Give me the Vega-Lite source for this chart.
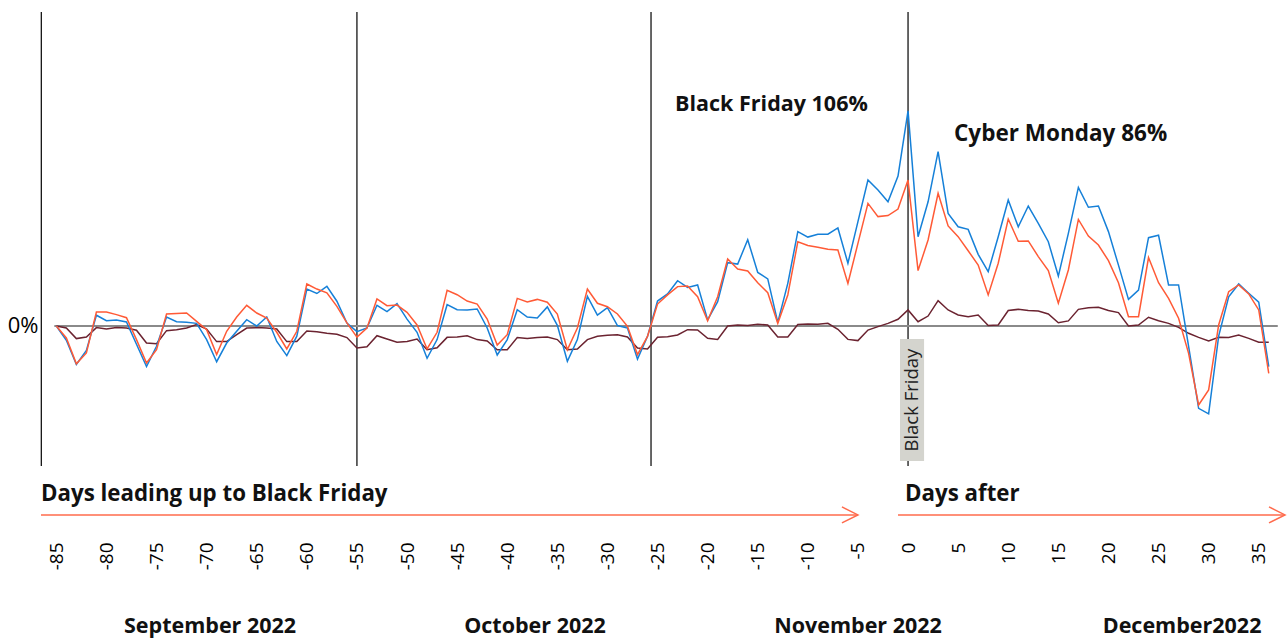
{
  "$schema": "https://vega.github.io/schema/vega-lite/v6.json",
  "autosize": {"type": "none"},
  "padding": {"left": 41, "top": 12, "right": 0, "bottom": 110},
  "width": 1247,
  "height": 520,
  "background": "white",
  "config": {"view": {"stroke": null}, "font": "Open Sans"},
  "datasets": {
    "sales": [
      {"day": -85, "blue": 0, "orange": 0, "maroon": 0},
      {"day": -84, "blue": -7, "orange": -5.9, "maroon": -1},
      {"day": -83, "blue": -19, "orange": -18.6, "maroon": -6.2},
      {"day": -82, "blue": -12, "orange": -13.3, "maroon": -5.4},
      {"day": -81, "blue": 5.3, "orange": 6.9, "maroon": -0.8},
      {"day": -80, "blue": 2.6, "orange": 6.9, "maroon": -1.5},
      {"day": -79, "blue": 3, "orange": 5.6, "maroon": -0.8},
      {"day": -78, "blue": 2, "orange": 4.1, "maroon": -1},
      {"day": -77, "blue": -9, "orange": -6.7, "maroon": -2.1},
      {"day": -76, "blue": -20, "orange": -18.2, "maroon": -8.4},
      {"day": -75, "blue": -10, "orange": -11.7, "maroon": -8.7},
      {"day": -74, "blue": 4.4, "orange": 5.9, "maroon": -2.3},
      {"day": -73, "blue": 2.1, "orange": 6.1, "maroon": -1.8},
      {"day": -72, "blue": 1.8, "orange": 6.4, "maroon": -1},
      {"day": -71, "blue": 1.3, "orange": 2.3, "maroon": 0.7},
      {"day": -70, "blue": -6.7, "orange": -1.8, "maroon": -1.5},
      {"day": -69, "blue": -17.6, "orange": -14.1, "maroon": -7.7},
      {"day": -68, "blue": -8.4, "orange": -2.6, "maroon": -7.7},
      {"day": -67, "blue": -2.6, "orange": 4.4, "maroon": -4.3},
      {"day": -66, "blue": 3.1, "orange": 10.2, "maroon": -1},
      {"day": -65, "blue": 0, "orange": 6.4, "maroon": -0.8},
      {"day": -64, "blue": 4.4, "orange": 3.9, "maroon": -1},
      {"day": -63, "blue": -7.6, "orange": -3.1, "maroon": -1.5},
      {"day": -62, "blue": -14.6, "orange": -11.3, "maroon": -7.7},
      {"day": -61, "blue": -5, "orange": -2.6, "maroon": -7.7},
      {"day": -60, "blue": 18.2, "orange": 20.7, "maroon": -2.5},
      {"day": -59, "blue": 16, "orange": 18.2, "maroon": -2.8},
      {"day": -58, "blue": 19.5, "orange": 16.3, "maroon": -3.6},
      {"day": -57, "blue": 12.2, "orange": 9.7, "maroon": -4.1},
      {"day": -56, "blue": 1.5, "orange": 1.5, "maroon": -5.7},
      {"day": -55, "blue": -2.8, "orange": -5.5, "maroon": -10.8},
      {"day": -54, "blue": -1, "orange": -1, "maroon": -10.2},
      {"day": -53, "blue": 10.2, "orange": 13.3, "maroon": -4.8},
      {"day": -52, "blue": 7.1, "orange": 10, "maroon": -6.4},
      {"day": -51, "blue": 11, "orange": 10.3, "maroon": -8},
      {"day": -50, "blue": 3.4, "orange": 6.7, "maroon": -7.6},
      {"day": -49, "blue": -3.1, "orange": 0.5, "maroon": -6.4},
      {"day": -48, "blue": -15.9, "orange": -11.3, "maroon": -11.7},
      {"day": -47, "blue": -6.7, "orange": -3.1, "maroon": -10.7},
      {"day": -46, "blue": 10.5, "orange": 17.6, "maroon": -5.6},
      {"day": -45, "blue": 8, "orange": 15.4, "maroon": -5.4},
      {"day": -44, "blue": 7.9, "orange": 12.3, "maroon": -4.8},
      {"day": -43, "blue": 8.4, "orange": 10.8, "maroon": -6.7},
      {"day": -42, "blue": -1, "orange": 3.4, "maroon": -7.4},
      {"day": -41, "blue": -14.3, "orange": -9.4, "maroon": -11.7},
      {"day": -40, "blue": -6.7, "orange": -4.3, "maroon": -11.7},
      {"day": -39, "blue": 8, "orange": 13.6, "maroon": -5.7},
      {"day": -38, "blue": 4.4, "orange": 11.8, "maroon": -6.2},
      {"day": -37, "blue": 3.9, "orange": 13.1, "maroon": -5.7},
      {"day": -36, "blue": 9.4, "orange": 11.7, "maroon": -5.4},
      {"day": -35, "blue": 0.3, "orange": 5.9, "maroon": -6.7},
      {"day": -34, "blue": -17.4, "orange": -11.7, "maroon": -11.7},
      {"day": -33, "blue": -6.7, "orange": -1, "maroon": -11.3},
      {"day": -32, "blue": 14.6, "orange": 18.2, "maroon": -6.7},
      {"day": -31, "blue": 5.4, "orange": 11.2, "maroon": -5.1},
      {"day": -30, "blue": 9, "orange": 9.5, "maroon": -4.6},
      {"day": -29, "blue": 0.2, "orange": 5.9, "maroon": -4.3},
      {"day": -28, "blue": -1, "orange": -0.2, "maroon": -5.4},
      {"day": -27, "blue": -16.3, "orange": -14.1, "maroon": -10.8},
      {"day": -26, "blue": -5.1, "orange": -5.1, "maroon": -11.3},
      {"day": -25, "blue": 12.3, "orange": 10.8, "maroon": -5.5},
      {"day": -24, "blue": 15.8, "orange": 15.3, "maroon": -5.3},
      {"day": -23, "blue": 22.3, "orange": 19.4, "maroon": -4.4},
      {"day": -22, "blue": 19, "orange": 19.7, "maroon": -1.8},
      {"day": -21, "blue": 20.2, "orange": 14.4, "maroon": -2},
      {"day": -20, "blue": 3, "orange": 2.6, "maroon": -6.1},
      {"day": -19, "blue": 12, "orange": 14.4, "maroon": -6.6},
      {"day": -18, "blue": 31.2, "orange": 33, "maroon": 0},
      {"day": -17, "blue": 30.5, "orange": 28.1, "maroon": 0.5},
      {"day": -16, "blue": 42.5, "orange": 27.1, "maroon": 0.2},
      {"day": -15, "blue": 26.4, "orange": 21.3, "maroon": 0.8},
      {"day": -14, "blue": 23.2, "orange": 16.4, "maroon": 0.5},
      {"day": -13, "blue": 1.8, "orange": 1.3, "maroon": -5.4},
      {"day": -12, "blue": 21, "orange": 15.3, "maroon": -5.4},
      {"day": -11, "blue": 46.5, "orange": 41.5, "maroon": 0.7},
      {"day": -10, "blue": 43.8, "orange": 39.7, "maroon": 1},
      {"day": -9, "blue": 45.2, "orange": 38.8, "maroon": 0.8},
      {"day": -8, "blue": 45.2, "orange": 37.8, "maroon": 1.3},
      {"day": -7, "blue": 48.3, "orange": 37.4, "maroon": -1.6},
      {"day": -6, "blue": 30.9, "orange": 21, "maroon": -6.6},
      {"day": -5, "blue": 51.4, "orange": 40.7, "maroon": -7.2},
      {"day": -4, "blue": 71.9, "orange": 60.4, "maroon": -2},
      {"day": -3, "blue": 67, "orange": 53.9, "maroon": -0.3},
      {"day": -2, "blue": 61.2, "orange": 54.4, "maroon": 1.3},
      {"day": -1, "blue": 73.9, "orange": 57.6, "maroon": 3.3},
      {"day": 0, "blue": 106, "orange": 71.9, "maroon": 7.9},
      {"day": 1, "blue": 44, "orange": 27.3, "maroon": 2.1},
      {"day": 2, "blue": 61.2, "orange": 42.4, "maroon": 4.9},
      {"day": 3, "blue": 85.9, "orange": 65.4, "maroon": 12.5},
      {"day": 4, "blue": 55.5, "orange": 49.3, "maroon": 7.9},
      {"day": 5, "blue": 48.9, "orange": 44, "maroon": 5.4},
      {"day": 6, "blue": 47.6, "orange": 37.1, "maroon": 4.6},
      {"day": 7, "blue": 35.3, "orange": 30, "maroon": 5.4},
      {"day": 8, "blue": 26.8, "orange": 15.3, "maroon": 0.2},
      {"day": 9, "blue": 44, "orange": 30.9, "maroon": 0.5},
      {"day": 10, "blue": 62.1, "orange": 52.7, "maroon": 7.6},
      {"day": 11, "blue": 48.9, "orange": 41.7, "maroon": 8.2},
      {"day": 12, "blue": 59.1, "orange": 41.9, "maroon": 7.6},
      {"day": 13, "blue": 50.6, "orange": 34.2, "maroon": 7.4},
      {"day": 14, "blue": 41.5, "orange": 27.3, "maroon": 5.9},
      {"day": 15, "blue": 24.6, "orange": 11.2, "maroon": 1.6},
      {"day": 16, "blue": 45.6, "orange": 27.6, "maroon": 2.5},
      {"day": 17, "blue": 68.3, "orange": 52.5, "maroon": 8.2},
      {"day": 18, "blue": 58.5, "orange": 44.3, "maroon": 9},
      {"day": 19, "blue": 59.1, "orange": 39.9, "maroon": 9.2},
      {"day": 20, "blue": 46.5, "orange": 32.2, "maroon": 7.6},
      {"day": 21, "blue": 30, "orange": 21.3, "maroon": 6.6},
      {"day": 22, "blue": 13.1, "orange": 4.6, "maroon": 0},
      {"day": 23, "blue": 17.7, "orange": 4.6, "maroon": 0.5},
      {"day": 24, "blue": 43.5, "orange": 33.7, "maroon": 4.3},
      {"day": 25, "blue": 44.7, "orange": 21.3, "maroon": 2.6},
      {"day": 26, "blue": 20.2, "orange": 13.6, "maroon": 1.3},
      {"day": 27, "blue": 20.2, "orange": 3.8, "maroon": -0.7},
      {"day": 28, "blue": -10, "orange": -13.5, "maroon": -3.6},
      {"day": 29, "blue": -40.6, "orange": -38.9, "maroon": -5.6},
      {"day": 30, "blue": -43.3, "orange": -31.5, "maroon": -7.4},
      {"day": 31, "blue": -5, "orange": 0.5, "maroon": -5.6},
      {"day": 32, "blue": 14.4, "orange": 16.9, "maroon": -5.7},
      {"day": 33, "blue": 20.7, "orange": 20.2, "maroon": -4.4},
      {"day": 34, "blue": 16.1, "orange": 15.8, "maroon": -6.1},
      {"day": 35, "blue": 11.7, "orange": 7.9, "maroon": -8},
      {"day": 36, "blue": -20, "orange": -23.3, "maroon": -8}
    ],
    "dividers": [{"day": -86.5}, {"day": -55}, {"day": -25.65}, {"day": 0}],
    "months": [
      {"day": -69.66, "label": "September 2022"},
      {"day": -37.23, "label": "October 2022"},
      {"day": -4.99, "label": "November 2022"},
      {"day": 27.35, "label": "December2022"}
    ],
    "one": [{}]
  },
  "layer": [
    {
      "data": {"name": "dividers"},
      "mark": {"type": "rule", "color": "#000000", "strokeWidth": 1.2},
      "encoding": {
        "x": {"field": "day", "type": "quantitative",
              "scale": {"domain": [-86.53, 37.92], "nice": false, "zero": false},
              "axis": {"values": [-85, -80, -75, -70, -65, -60, -55, -50, -45, -40, -35, -30, -25, -20, -15, -10, -5, 0, 5, 10, 15, 20, 25, 30, 35],
                       "labelExpr": "'' + datum.value",
                       "labelAngle": 270, "labelFontSize": 19, "labelColor": "#000000", "labelPadding": 10,
                       "domain": false, "ticks": false, "grid": false, "title": null, "labelFont": "Open Sans"}},
        "y": {"datum": 154.7, "type": "quantitative",
              "scale": {"domain": [-101.5, 154.7], "nice": false, "zero": false},
              "axis": {"values": [0], "labelExpr": "'0%'", "labelFontSize": 22, "labelColor": "#000000", "labelPadding": 3,
                       "domain": false, "ticks": false, "grid": false, "title": null, "labelFont": "Open Sans"}},
        "y2": {"datum": -69}
      }
    },
    {
      "data": {"name": "one"},
      "mark": {"type": "rule", "color": "#8a8a8a", "strokeWidth": 2},
      "encoding": {"x": {"datum": -85.2}, "x2": {"datum": 36.9}, "y": {"datum": 0}}
    },
    {
      "data": {"name": "sales"},
      "mark": {"type": "line", "color": "#6b2330", "strokeWidth": 1.5},
      "encoding": {"x": {"field": "day", "type": "quantitative"}, "y": {"field": "maroon", "type": "quantitative"}}
    },
    {
      "data": {"name": "sales"},
      "mark": {"type": "line", "color": "#1680d8", "strokeWidth": 1.5},
      "encoding": {"x": {"field": "day", "type": "quantitative"}, "y": {"field": "blue", "type": "quantitative"}}
    },
    {
      "data": {"name": "sales"},
      "mark": {"type": "line", "color": "#ff5a36", "strokeWidth": 1.5},
      "encoding": {"x": {"field": "day", "type": "quantitative"}, "y": {"field": "orange", "type": "quantitative"}}
    },
    {
      "data": {"name": "one"},
      "mark": {"type": "rect", "color": "#d4d4ce"},
      "encoding": {"x": {"datum": -0.8}, "x2": {"datum": 1.6}, "y": {"datum": -6.4}, "y2": {"datum": -66.5}}
    },
    {
      "data": {"name": "one"},
      "mark": {"type": "text", "text": "Black Friday", "angle": 270, "fontSize": 18.5, "color": "#222222", "align": "center", "baseline": "middle", "font": "Open Sans"},
      "encoding": {"x": {"datum": 0.4}, "y": {"datum": -36.5}}
    },
    {
      "data": {"name": "one"},
      "mark": {"type": "text", "text": "Black Friday 106%", "fontSize": 21.5, "fontWeight": "bold", "color": "#111111", "align": "left", "baseline": "middle", "font": "Open Sans"},
      "encoding": {"x": {"datum": -23.25}, "y": {"datum": 108.9}}
    },
    {
      "data": {"name": "one"},
      "mark": {"type": "text", "text": "Cyber Monday 86%", "fontSize": 22.5, "fontWeight": "bold", "color": "#111111", "align": "left", "baseline": "middle", "font": "Open Sans"},
      "encoding": {"x": {"datum": 4.59}, "y": {"datum": 94.6}}
    },
    {
      "data": {"name": "one"},
      "mark": {"type": "text", "text": "Days leading up to Black Friday", "fontSize": 22.3, "fontWeight": "bold", "color": "#111111", "align": "left", "baseline": "middle", "font": "Open Sans"},
      "encoding": {"x": {"datum": -86.53}, "y": {"datum": -82.8}}
    },
    {
      "data": {"name": "one"},
      "mark": {"type": "text", "text": "Days after", "fontSize": 22.3, "fontWeight": "bold", "color": "#111111", "align": "left", "baseline": "middle", "font": "Open Sans"},
      "encoding": {"x": {"datum": -0.3}, "y": {"datum": -82.8}}
    },
    {
      "data": {"name": "one"},
      "mark": {"type": "rule", "color": "#ff6b4d", "strokeWidth": 1.5},
      "encoding": {"x": {"datum": -86.53}, "x2": {"datum": -5.0}, "y": {"datum": -93.1}}
    },
    {
      "data": {"name": "one"},
      "mark": {"type": "rule", "color": "#ff6b4d", "strokeWidth": 1.5},
      "encoding": {"x": {"datum": -1.0}, "x2": {"datum": 37.62}, "y": {"datum": -93.1}}
    },
    {
      "data": {"name": "one"},
      "mark": {"type": "point", "shape": "M-2,-1L0,0L-2,1", "filled": false, "stroke": "#ff6b4d", "strokeWidth": 1.5, "size": 256, "opacity": 1},
      "encoding": {"x": {"datum": -5.0}, "y": {"datum": -93.1}}
    },
    {
      "data": {"name": "one"},
      "mark": {"type": "point", "shape": "M-2,-1L0,0L-2,1", "filled": false, "stroke": "#ff6b4d", "strokeWidth": 1.5, "size": 256, "opacity": 1},
      "encoding": {"x": {"datum": 37.62}, "y": {"datum": -93.1}}
    },
    {
      "data": {"name": "months"},
      "mark": {"type": "text", "fontSize": 21.5, "fontWeight": "bold", "color": "#111111", "align": "center", "baseline": "middle", "font": "Open Sans"},
      "encoding": {"x": {"field": "day", "type": "quantitative"}, "y": {"datum": -148.3}, "text": {"field": "label"}}
    }
  ]
}
